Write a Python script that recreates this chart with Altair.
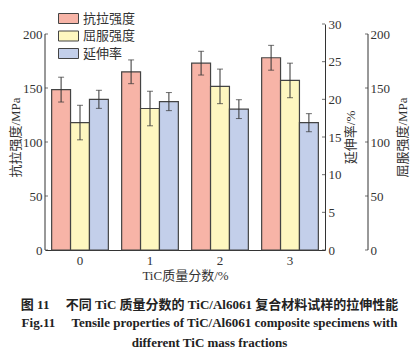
import altair as alt
import pandas as pd

groups = ["0", "1", "2", "3"]
series = ["抗拉强度", "屈服强度", "延伸率"]
colors = ["#F7B4A7", "#FEF7C0", "#C3CFEA"]

tensile = [148.5, 165, 173, 178]
tensile_err = [11.5, 11, 11, 11.5]
yield_s = [118, 131, 151.5, 157]
yield_err = [16, 16, 16, 16]
elong = [20.0, 19.7, 18.7, 16.9]
elong_err = [1.2, 1.2, 1.25, 1.2]

strength_ticks = [0, 50, 100, 150, 200]
elong_ticks = [0, 5, 10, 15, 20, 25, 30]

W, H = 280, 226
strength_max = 200 * H / 216
FONT = "Liberation Serif, Noto Sans CJK SC"
INK = "#333333"


def frame(name, vals, errs):
    return pd.DataFrame({
        "group": groups,
        "series": name,
        "value": vals,
        "lo": [v - e for v, e in zip(vals, errs)],
        "hi": [v + e for v, e in zip(vals, errs)],
    })


X = alt.X("group:N", sort=groups,
          scale=alt.Scale(paddingInner=0.19, paddingOuter=0.095),
          axis=alt.Axis(title="TiC质量分数/%", labelAngle=0, ticks=False,
                        labelPadding=4, titlePadding=2, domainColor=INK))
XO = alt.XOffset("series:N", sort=series,
                 scale=alt.Scale(domain=series, paddingInner=0, paddingOuter=0))


def series_layers(name, vals, errs, domain, ticks, axis, tick_x, rule_x, rule_range, legend):
    df = frame(name, vals, errs)

    def sc():
        return alt.Scale(domain=domain, nice=False, zero=True)

    color = alt.Color("series:N", scale=alt.Scale(domain=series, range=colors), legend=legend)
    bars = alt.Chart(df).mark_bar(stroke="#444444", strokeWidth=1.2).encode(
        x=X, xOffset=XO, y=alt.Y("value:Q", scale=sc(), axis=axis), color=color)
    err = alt.Chart(df).mark_rule(color=INK, strokeWidth=1).encode(
        x=X, xOffset=XO, y=alt.Y("lo:Q", scale=sc(), axis=None), y2="hi:Q")
    cap_hi = alt.Chart(df).mark_tick(orient="horizontal", size=6, thickness=1, color=INK).encode(
        x=X, xOffset=XO, y=alt.Y("hi:Q", scale=sc(), axis=None))
    cap_lo = alt.Chart(df).mark_tick(orient="horizontal", size=6, thickness=1, color=INK).encode(
        x=X, xOffset=XO, y=alt.Y("lo:Q", scale=sc(), axis=None))
    tdf = pd.DataFrame({"t": ticks})
    aticks = alt.Chart(tdf).mark_tick(orient="horizontal", size=3, thickness=1, color=INK).encode(
        x=alt.value(tick_x), y=alt.Y("t:Q", scale=sc(), axis=None))
    layers = [bars, err, cap_hi, cap_lo, aticks]
    if rule_x is not None:
        rdf = pd.DataFrame({"a": [rule_range[0]], "b": [rule_range[1]]})
        arule = alt.Chart(rdf).mark_rule(color=INK, strokeWidth=1).encode(
            x=alt.value(rule_x), y=alt.Y("a:Q", scale=sc(), axis=None), y2="b:Q")
        layers.append(arule)
    return layers


legend = alt.Legend(orient="none", legendX=17, legendY=-12, title=None,
                    symbolType="M-2,-1H2V1H-2Z", symbolSize=100,
                    symbolStrokeColor="#444444", symbolStrokeWidth=1,
                    symbolOpacity=1, labelOffset=8, labelFontSize=13,
                    labelFont=FONT, labelColor=INK, rowPadding=2.5, padding=0)

t_layers = series_layers(
    "抗拉强度", tensile, tensile_err, [0, strength_max], strength_ticks,
    alt.Axis(orient="left", values=strength_ticks, ticks=False, domain=False, grid=False,
             labelPadding=3, title="抗拉强度/MPa", titlePadding=0),
    1.5, 0, [0, 200], legend)

y_layers = series_layers(
    "屈服强度", yield_s, yield_err, [0, strength_max], strength_ticks,
    alt.Axis(orient="right", offset=43, values=strength_ticks, ticks=False, domain=False,
             grid=False, labelPadding=2, title="屈服强度/MPa", titleAngle=270,
             titleBaseline="top", titlePadding=7),
    W + 43 - 1.5, W + 43, [0, 200], None)

e_layers = series_layers(
    "延伸率", elong, elong_err, [0, 30], elong_ticks,
    alt.Axis(orient="right", values=elong_ticks, ticks=False, domain=True, domainColor=INK,
             grid=False, labelPadding=3, title="延伸率/%", titleAngle=270,
             titleBaseline="top", titlePadding=3),
    W - 1.5, None, None, None)

chart = alt.layer(*t_layers, *y_layers, *e_layers).resolve_scale(y="independent").properties(
    width=W, height=H,
    autosize=alt.AutoSizeParams(type="none"),
    padding={"left": 37, "top": 16, "right": 86, "bottom": 102},
    title=alt.TitleParams(
        text="图 11 \u2003不同 TiC 质量分数的 TiC/Al6061 复合材料试样的拉伸性能",
        subtitle=["Fig.11 \u2003Tensile properties of TiC/Al6061 composite specimens with",
                  "different TiC mass fractions"],
        orient="bottom", anchor="middle", frame="bounds",
        font=FONT, fontSize=13, fontWeight="bold", color="#222222",
        subtitleFont="Liberation Serif", subtitleFontSize=13, subtitleFontWeight="bold",
        subtitleColor="#222222", subtitleLineHeight=20, subtitlePadding=5, offset=17),
).configure_view(stroke=None).configure_axis(
    labelFont=FONT, labelFontSize=13, labelColor=INK,
    titleFont=FONT, titleFontSize=13, titleFontWeight="normal", titleColor=INK,
)

chart.save("out.html", embed_options={"renderer": "svg", "actions": False})
